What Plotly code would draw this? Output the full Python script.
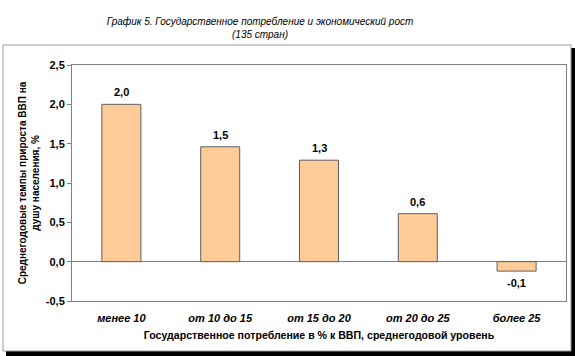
import plotly.graph_objects as go

categories = ["менее 10", "от 10 до 15", "от 15 до 20", "от 20 до 25", "более 25"]
values = [2.0, 1.46, 1.29, 0.61, -0.12]
y_tick_vals = [-0.5, 0.0, 0.5, 1.0, 1.5, 2.0, 2.5]
y_tick_text = ["-0,5", "0,0", "0,5", "1,0", "1,5", "2,0", "2,5"]
value_labels = [f"{v:.1f}".replace(".", ",") for v in values]

title_line1 = "График 5. Государственное потребление и экономический рост"
title_line2 = "(135 стран)"
x_title = "Государственное потребление в % к ВВП, среднегодовой уровень"
y_title = "Среднегодовые темпы прироста ВВП на<br>душу населения, %"

FONT = "Liberation Sans, Arial, sans-serif"
W, H = 575, 356
L, R, T, B = 72, 9, 65, 55
pw, ph = W - L - R, H - T - B


def px_x(x):
    return (x - L) / pw


def px_y(y):
    return (H - B - y) / ph


fig = go.Figure()
fig.add_trace(go.Bar(
    x=categories, y=values,
    marker=dict(color="#FFCC99", line=dict(color="#5f5f5f", width=1)),
    hoverinfo="skip",
))

annotations = []
for c, v, t in zip(categories, values, value_labels):
    annotations.append(dict(
        x=c, y=v, xref="x", yref="y", text=t, showarrow=False,
        yanchor="bottom" if v >= 0 else "top",
        yshift=4 if v >= 0 else -4,
        font=dict(family=FONT, size=11, color="black", weight="bold"),
    ))

shapes = [
    # shadow
    dict(type="rect", xref="paper", yref="paper", layer="below",
         x0=px_x(6), x1=px_x(575), y0=px_y(356), y1=px_y(48),
         fillcolor="black", line=dict(width=0)),
    # chart area box
    dict(type="rect", xref="paper", yref="paper", layer="below",
         x0=px_x(3), x1=px_x(571), y0=px_y(351), y1=px_y(45),
         fillcolor="white", line=dict(color="#9a9a9a", width=1)),
]

fig.update_layout(
    width=W, height=H,
    margin=dict(l=L, r=R, t=T, b=B),
    paper_bgcolor="white",
    plot_bgcolor="rgba(0,0,0,0)",
    showlegend=False,
    bargap=0.605,
    title=dict(
        text=title_line1 + "<br>" + title_line2,
        x=260 / W, xanchor="center", xref="container",
        y=(H - 25) / H, yanchor="middle", yref="container",
        font=dict(family=FONT, size=10, color="black", style="italic"),
    ),
    xaxis=dict(
        showline=True, linecolor="#808080", linewidth=1, mirror=True,
        ticks="outside", ticklen=7, tickcolor="rgba(0,0,0,0)",
        tickfont=dict(family=FONT, size=11, color="black", weight="bold", style="italic"),
        showgrid=False, zeroline=False,
        title=dict(text=x_title, standoff=8,
                   font=dict(family=FONT, size=10.6, color="black", weight="bold")),
    ),
    yaxis=dict(
        range=[-0.5, 2.5], tickvals=y_tick_vals, ticktext=y_tick_text,
        showline=True, linecolor="#808080", linewidth=1, mirror=True,
        ticks="outside", ticklen=4, tickcolor="#808080",
        tickfont=dict(family=FONT, size=11, color="black", weight="bold"),
        showgrid=False, zeroline=True, zerolinecolor="#808080", zerolinewidth=1,
        title=dict(text=y_title, standoff=4,
                   font=dict(family=FONT, size=10, color="black", weight="bold")),
    ),
    annotations=annotations,
    shapes=shapes,
)

fig.write_html(
    "out.html",
    config={"displayModeBar": False},
    post_script="document.body.style.margin='0';document.body.style.overflow='hidden';",
)
